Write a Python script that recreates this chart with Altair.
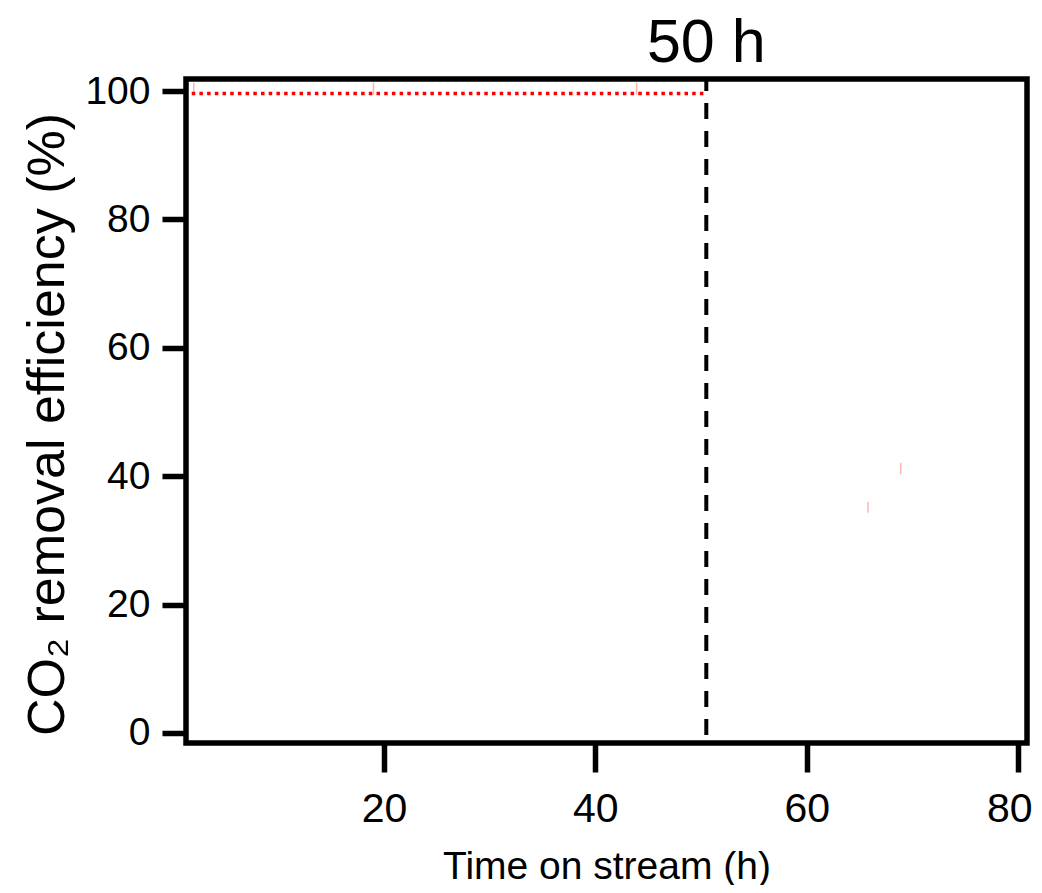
import altair as alt
import pandas as pd

# Data
time_h = [1.8, 50.5]
efficiency = [99.6, 99.6]

err_time = [2.0, 19.0, 43.9, 65.8, 68.9]
err_lo = [99.4, 99.4, 99.4, 34.3, 40.3]
err_hi = [101.3, 101.3, 101.3, 36.0, 42.1]

marker_time = [50.5]
marker_label = ["50 h"]

x_ticks = [20, 40, 60, 80]
y_ticks = [0, 20, 40, 60, 80, 100]

FONT = "Liberation Sans"

line_df = pd.DataFrame({"t": time_h, "eff": efficiency})
err_df = pd.DataFrame({"t": err_time, "lo": err_lo, "hi": err_hi})
mark_df = pd.DataFrame({"t": marker_time, "label": marker_label})

xs = alt.Scale(domain=[1.26, 80.85], nice=False, zero=False)
ys = alt.Scale(domain=[-1.56, 101.87], nice=False, zero=False)

x_axis = alt.Axis(
    values=x_ticks, title="Time on stream (h)", domain=False, grid=False,
    tickSize=29, tickWidth=5.5, tickColor="black",
    labelFontSize=41, labelFont=FONT, labelColor="black", labelPadding=17,
    labelFlush=12, labelFlushOffset=14,
    titleFontSize=39, titleFont=FONT, titleFontWeight="normal",
    titleColor="black", titlePadding=18,
)
y_axis = alt.Axis(
    values=y_ticks, title="CO₂ removal efficiency (%)", domain=False, grid=False,
    tickSize=24, tickWidth=5.5, tickColor="black",
    labelFontSize=39, labelFont=FONT, labelColor="black", labelPadding=12,
    labelFlush=False,
    titleFontSize=52, titleFont=FONT, titleFontWeight="normal", titleColor="black",
    titleAngle=-90, titleAlign="center", titleBaseline="alphabetic",
    titleX=-123, titleY=345,
)

line = alt.Chart(line_df).mark_line(
    color="#ff0000", strokeWidth=3.5, strokeDash=[3.5, 4.2]
).encode(
    x=alt.X("t:Q", scale=xs, axis=x_axis),
    y=alt.Y("eff:Q", scale=ys, axis=y_axis),
)

errs = alt.Chart(err_df).mark_rule(color="#ffb4b4", strokeWidth=1.5).encode(
    x=alt.X("t:Q", scale=xs, axis=x_axis),
    y=alt.Y("lo:Q", scale=ys, axis=y_axis),
    y2="hi:Q",
)

vline = alt.Chart(mark_df).mark_rule(
    color="black", strokeWidth=4, strokeDash=[16, 12], strokeDashOffset=4
).encode(x=alt.X("t:Q", scale=xs, axis=x_axis))

label = alt.Chart(mark_df).mark_text(
    font=FONT, fontSize=61, color="black", align="center", baseline="alphabetic"
).encode(
    x=alt.X("t:Q", scale=xs, axis=x_axis),
    y=alt.value(-17),
    text="label:N",
)

chart = alt.layer(errs, line, vline, label).properties(
    width=841, height=664,
    autosize="none",
    padding={"left": 178, "top": 71, "right": 7, "bottom": 142},
    background="white",
).configure_view(
    stroke="black", strokeWidth=5.5
)

chart.save("out.html", embed_options={"renderer": "svg", "actions": False})
